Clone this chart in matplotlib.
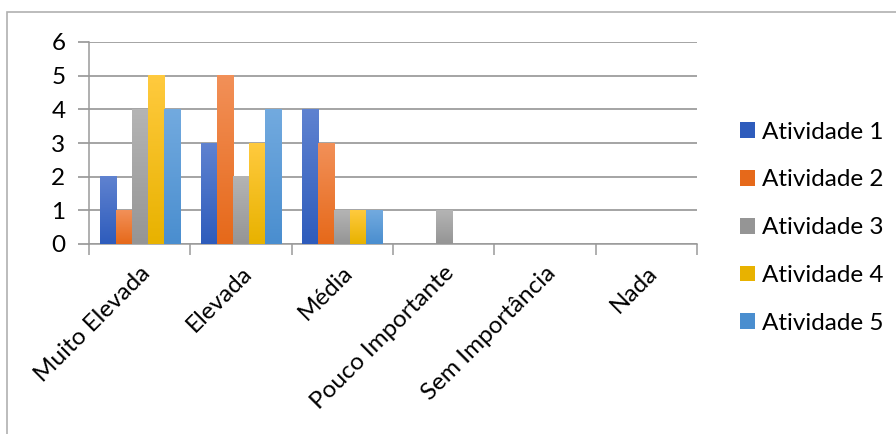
import numpy as np
import matplotlib.pyplot as plt
from matplotlib.colors import LinearSegmentedColormap
from matplotlib.patches import Rectangle

categories = ["Muito Elevada", "Elevada", "Média", "Pouco Importante", "Sem Importância", "Nada"]
series_names = ["Atividade 1", "Atividade 2", "Atividade 3", "Atividade 4", "Atividade 5"]
atividade_1 = [2, 3, 4, 0, 0, 0]
atividade_2 = [1, 5, 3, 0, 0, 0]
atividade_3 = [4, 2, 1, 1, 0, 0]
atividade_4 = [5, 3, 1, 0, 0, 0]
atividade_5 = [4, 4, 1, 0, 0, 0]
y_ticks = [0, 1, 2, 3, 4, 5, 6]

# (top colour, bottom colour) for the Excel-like gradient
colors = [
    ("#5f82d0", "#2e5cbc"),
    ("#f29058", "#e6691a"),
    ("#b4b4b4", "#959595"),
    ("#ffca3e", "#e8b200"),
    ("#72aadf", "#4a8ecf"),
]

plt.rcParams["font.family"] = ["Lato", "DejaVu Sans"]
FS = 17.5

fig = plt.figure(figsize=(8.96, 4.34), dpi=100)
fig.patches.append(Rectangle((7 / 896, -0.1), 1.2, 1 - 12 / 434 + 0.1,
                             transform=fig.transFigure, fill=False,
                             edgecolor="#b0b0b0", linewidth=1.2, zorder=0))

ax = fig.add_axes([89 / 896, 1 - 244 / 434, 608 / 896, 202 / 434])

all_series = [atividade_1, atividade_2, atividade_3, atividade_4, atividade_5]
x = np.arange(len(categories))
bar_w = 0.158
grad = np.linspace(0, 1, 64).reshape(-1, 1)

handles = []
for i, (vals, name, (ctop, cbot)) in enumerate(zip(all_series, series_names, colors)):
    offs = (i - 2) * bar_w
    bars = ax.bar(x + offs, vals, width=bar_w, color="none", edgecolor="none", zorder=3)
    cmap = LinearSegmentedColormap.from_list(name, [cbot, ctop])
    for b in bars:
        h = b.get_height()
        if h <= 0:
            continue
        x0 = b.get_x()
        ax.imshow(grad, cmap=cmap, origin="lower", aspect="auto",
                  extent=[x0, x0 + b.get_width(), 0, h], zorder=3)
    handles.append(Rectangle((0, 0), 1, 1, facecolor=cbot))

ax.set_xlim(-0.5, len(categories) - 0.5)
ax.set_ylim(0, 6)
ax.set_yticks(y_ticks)
ax.grid(axis="y", color="#8c8c8c", linewidth=1.1, zorder=1)
ax.set_axisbelow(True)
for s in ["top", "right"]:
    ax.spines[s].set_visible(False)
ax.spines["left"].set_color("#9a9a9a")
ax.spines["bottom"].set_color("#9a9a9a")
ax.spines["left"].set_linewidth(1.1)
ax.spines["bottom"].set_linewidth(1.1)

ax.tick_params(axis="y", length=8, color="#8c8c8c", width=1.1, labelsize=FS, pad=9)
ax.set_xticks(np.arange(len(categories) + 1) - 0.5, minor=False)
ax.set_xticklabels([])
ax.tick_params(axis="x", which="major", length=8, color="#9a9a9a", width=1.1)
ax.set_xticks(x, minor=True)
ax.set_xticklabels(categories, minor=True, rotation=45, ha="right", va="top",
                   rotation_mode="anchor", fontsize=FS)
ax.tick_params(axis="x", which="minor", length=0, pad=13)

fig.legend(handles, series_names, loc="upper left", bbox_to_anchor=(730 / 896, 1 - 112 / 434),
           frameon=False, fontsize=FS, handlelength=0.62, handleheight=0.62,
           handletextpad=0.3, labelspacing=1.1, borderaxespad=0)

fig.savefig("out.png", dpi=100)
